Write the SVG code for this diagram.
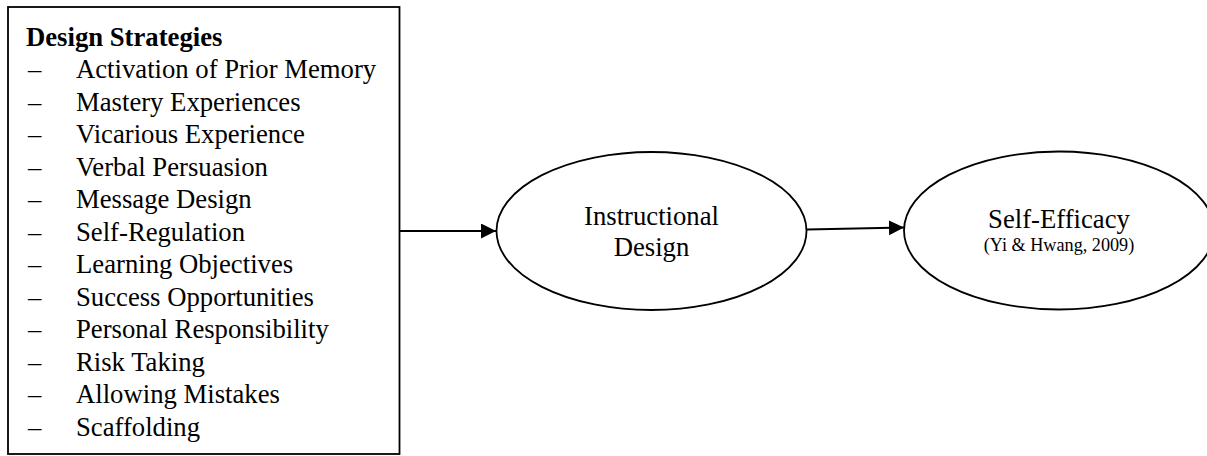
<svg xmlns="http://www.w3.org/2000/svg" width="1207" height="456" viewBox="0 0 1207 456">
  <style>
    .t { font-family: "Liberation Serif", "Times New Roman", serif; fill: #000; }
    .item { font-size: 26.7px; }
    .title { font-size: 26.7px; font-weight: bold; }
    .label { font-size: 26.7px; text-anchor: middle; }
    .cite { font-size: 18.2px; text-anchor: middle; }
    .shape { fill: #fff; stroke: #000; stroke-width: 1.8; }
    .conn { stroke: #000; stroke-width: 2; fill: none; }
  </style>
  <defs>
    <marker id="arrow" markerUnits="userSpaceOnUse" markerWidth="16" markerHeight="16" refX="15" refY="7.5" orient="auto">
      <path d="M0,0 L15,7.5 L0,15 Z" fill="#000"/>
    </marker>
  </defs>
  <rect width="1207" height="456" fill="#fff"/>

  <!-- strategy list box -->
  <g id="design-strategies">
    <rect class="shape" x="8" y="7" width="391.5" height="447"/>
    <text class="t title" x="26" y="45.5">Design Strategies</text>
    <g class="t item">
      <text x="28" y="78">–</text><text x="76" y="78">Activation of Prior Memory</text>
      <text x="28" y="110.5">–</text><text x="76" y="110.5">Mastery Experiences</text>
      <text x="28" y="143">–</text><text x="76" y="143">Vicarious Experience</text>
      <text x="28" y="175.5">–</text><text x="76" y="175.5">Verbal Persuasion</text>
      <text x="28" y="208">–</text><text x="76" y="208">Message Design</text>
      <text x="28" y="240.5">–</text><text x="76" y="240.5">Self-Regulation</text>
      <text x="28" y="273">–</text><text x="76" y="273">Learning Objectives</text>
      <text x="28" y="305.5">–</text><text x="76" y="305.5">Success Opportunities</text>
      <text x="28" y="338">–</text><text x="76" y="338">Personal Responsibility</text>
      <text x="28" y="370.5">–</text><text x="76" y="370.5">Risk Taking</text>
      <text x="28" y="403">–</text><text x="76" y="403">Allowing Mistakes</text>
      <text x="28" y="435.5">–</text><text x="76" y="435.5">Scaffolding</text>
    </g>
  </g>

  <!-- middle node -->
  <g id="instructional-design">
    <ellipse class="shape" cx="651.5" cy="231" rx="155" ry="79"/>
    <text class="t label" x="651.5" y="225">Instructional</text>
    <text class="t label" x="651.5" y="256">Design</text>
  </g>

  <!-- outcome node -->
  <g id="self-efficacy">
    <ellipse class="shape" cx="1059" cy="230.5" rx="155" ry="79"/>
    <text class="t label" x="1059" y="228">Self-Efficacy</text>
    <text class="t cite" x="1059" y="251">(Yi &amp; Hwang, 2009)</text>
  </g>

  <!-- connectors -->
  <g id="connectors">
    <line class="conn" x1="400" y1="231" x2="496" y2="231" marker-end="url(#arrow)"/>
    <line class="conn" x1="807" y1="229.5" x2="904" y2="227.5" marker-end="url(#arrow)"/>
  </g>
</svg>
